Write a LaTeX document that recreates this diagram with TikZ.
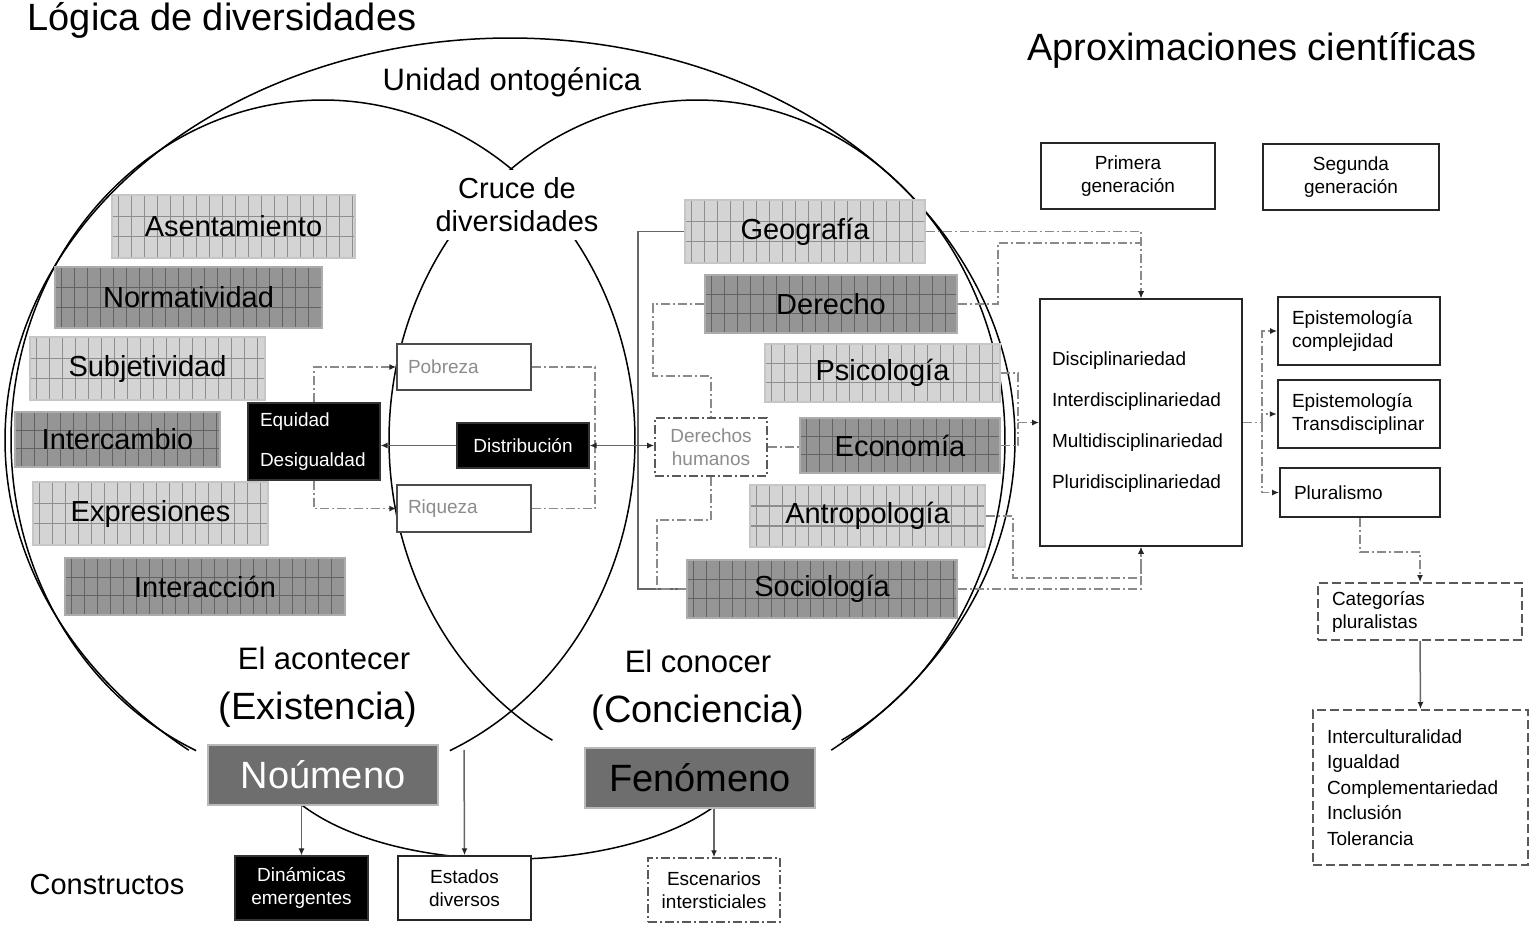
\documentclass[tikz,border=0pt]{standalone}
\usepackage{fontspec}
\setmainfont{Liberation Sans}
\usetikzlibrary{arrows.meta,calc,backgrounds}
\definecolor{lfill}{HTML}{D4D4D4}
\definecolor{lline}{HTML}{8E8E8E}
\definecolor{dfill}{HTML}{959595}
\definecolor{dline}{HTML}{636363}
\definecolor{nfill}{HTML}{6E6E6E}
\definecolor{conn}{HTML}{8A8A8A}
\definecolor{txtgray}{HTML}{8C8C8C}
\newcommand\gridpic[1]{%
  \foreach \k in {0,...,26}{%
    \draw[#1, line width=1pt] ([xshift=\k*13pt+6pt]path picture bounding box.north west) -- ([xshift=\k*13pt+6pt]path picture bounding box.south west);}%
  \draw[#1, line width=1.2pt] ($(path picture bounding box.north west)!0.34!(path picture bounding box.south west)$) -- ($(path picture bounding box.north east)!0.34!(path picture bounding box.south east)$);%
  \draw[#1, line width=1.2pt] ($(path picture bounding box.north west)!0.66!(path picture bounding box.south west)$) -- ($(path picture bounding box.north east)!0.66!(path picture bounding box.south east)$);%
}
\begin{document}
\begin{tikzpicture}[x=1pt,y=-1pt,
  >={Latex[length=7pt,width=6pt,color=black!85]},
  sz/.style 2 args={minimum width=#1pt, minimum height=#2pt, inner sep=0pt},
  gL/.style={fill=lfill, draw=gray!45, line width=1.5pt, path picture={\gridpic{lline}}, font=\fontsize{29}{34}\selectfont},
  gD/.style={fill=dfill, draw=gray!65, line width=1.5pt, path picture={\gridpic{dline}}, font=\fontsize{29}{34}\selectfont},
  small/.style={font=\fontsize{19}{23}\selectfont},
  lefttext/.style 2 args={text width=#1pt, inner xsep=#2pt, inner ysep=0pt, align=left},
  wbox/.style={draw=black!85, line width=1.8pt, fill=white},
  gbox/.style={draw=black!70, line width=1.3pt, fill=white, text=txtgray},
  bbox/.style={fill=black, draw=black!80, line width=1.2pt, text=white},
  ddbox/.style={draw=black!65, line width=1.8pt, fill=white, dash pattern=on 9pt off 3pt on 2pt off 3pt},
  dashbox/.style={draw=black!65, line width=2pt, fill=white, dash pattern=on 9pt off 4pt},
  nbox/.style={fill=nfill, draw=gray!55, line width=1.5pt, font=\fontsize{38}{44}\selectfont},
  dd/.style={draw=conn, line width=1.5pt, dash pattern=on 9pt off 3pt on 2pt off 3pt},
  sol/.style={draw=black!60, line width=1.5pt},
  curve/.style={draw=black, line width=1.5pt}
]
\useasboundingbox (0,0) rectangle (1531,927);

% titles and labels
\node[font=\fontsize{38}{44}\selectfont] (title) at (222,20) {Lógica de diversidades};
\node[font=\fontsize{38}{44}\selectfont] (aprox) at (1252,50) {Aproximaciones científicas};
\node[font=\fontsize{31}{36}\selectfont] (unidad) at (512,82) {Unidad ontogénica};
\node[font=\fontsize{29}{33}\selectfont, align=center, fill=white, inner xsep=2pt, inner ysep=8pt] (cruce) at (517,205) {Cruce de\\diversidades};
\node[font=\fontsize{31}{36}\selectfont] (acont) at (324,658) {El acontecer};
\node[font=\fontsize{38}{44}\selectfont] (exist) at (318,710) {(Existencia)};
\node[font=\fontsize{31}{36}\selectfont] (conoc) at (698,661) {El conocer};
\node[font=\fontsize{38}{44}\selectfont] (conc) at (698,713) {(Conciencia)};
\node[font=\fontsize{29}{34}\selectfont] (construct) at (107,885) {Constructos};

% left grid boxes
\node[gL, sz={243}{63}] (asent) at (233.5,226.5) {Asentamiento};
\node[gD, sz={267}{61}] (norm) at (188.5,297.5) {Normatividad};
\node[gL, sz={235}{63}] (subj) at (147.5,368.5) {Subjetividad};
\node[gD, sz={205}{55}] (interc) at (117.5,439.5) {Intercambio};
\node[gL, sz={235}{63}] (expr) at (150.5,513.5) {Expresiones};
\node[gD, sz={280}{57}] (inter) at (205,586.5) {Interacción};

% right grid boxes
\node[gL, sz={240}{63}] (geo) at (805,231.5) {Geografía};
\node[gD, sz={252}{58}] (der) at (831,304) {Derecho};
\node[gL, sz={235}{58}] (psi) at (882.5,373) {Psicología};
\node[gD, sz={200}{55}] (eco) at (900,445.5) {Economía};
\node[gL, sz={235}{62}] (antro) at (867.5,516) {Antropología};
\node[gD, sz={270}{58}] (socio) at (822,589) {Sociología};

% middle boxes
\node[bbox, small, lefttext={108}{12}, minimum height=77pt, font=\fontsize{19}{40}\selectfont] (equi) at (314,441.5) {Equidad\\Desigualdad};
\node[gbox, small, lefttext={112}{11}, minimum height=46pt] (pob) at (464,367) {Pobreza};
\node[gbox, small, lefttext={112}{11}, minimum height=47pt] (riq) at (464,508.5) {Riqueza};
\node[bbox, small, sz={132}{45}] (dist) at (523,445.5) {Distribución};
\node[ddbox, small, sz={112}{58}, align=center, text=txtgray] (dh) at (711,447) {Derechos\\humanos};

% right column
\node[wbox, lefttext={178}{12}, minimum height=247pt, font=\fontsize{19}{41}\selectfont] (disc) at (1141,422.5) {Disciplinariedad\\Interdisciplinariedad\\Multidisciplinariedad\\Pluridisciplinariedad};
\node[wbox, small, sz={174}{66}, align=center] (prim) at (1128,176) {Primera\\generación};
\node[wbox, small, sz={176}{66}, align=center] (seg) at (1351,177) {Segunda\\generación};
\node[wbox, small, lefttext={134}{14}, minimum height=68pt] (ecomp) at (1359,331) {Epistemología\\complejidad};
\node[wbox, small, lefttext={134}{14}, minimum height=68pt, line width=2.4pt] (etrans) at (1359,414) {Epistemología\\Transdisciplinar};
\node[wbox, small, lefttext={132}{14}, minimum height=49pt] (plur) at (1360,492.5) {Pluralismo};
\node[dashbox, small, lefttext={176}{14}, minimum height=57pt] (cat) at (1420,611.5) {Categorías\\pluralistas};
\node[dashbox, lefttext={187}{14}, minimum height=155pt, font=\fontsize{19}{25.5}\selectfont] (list) at (1420.5,787.5) {Interculturalidad\\Igualdad\\Complementariedad\\Inclusión\\Tolerancia};

% bottom
\node[nbox, sz={230}{60}, text=white] (noum) at (323,775) {Noúmeno};
\node[nbox, sz={230}{60}, text=black] (fen) at (700,778) {Fenómeno};
\node[bbox, small, sz={133}{64}, align=center] (din) at (301.5,888) {Dinámicas\\emergentes};
\node[wbox, small, sz={133}{64}, align=center, line width=1.5pt] (est) at (464.5,888) {Estados\\diversos};
\node[ddbox, small, sz={132}{64}, align=center, line width=1.5pt] (esc) at (714,890) {Escenarios\\intersticiales};

\coordinate (pdj) at (595,445.5);
\coordinate (bkx) at (638,0);
\coordinate (d1) at (653,376);
\coordinate (d2) at (657,520);
\coordinate (d3) at (998,243);
\coordinate (d4) at (1018,422.5);
\coordinate (d5) at (1013,578);
\coordinate (d6) at (1262,422.5);
\coordinate (d7) at (464,750);

\begin{scope}[on background layer]
\fill[white] (0,0) rectangle (1531,927);
% outer enclosing arc and the two circles
\draw[curve] plot[domain=129.5:410.5, samples=200, smooth] ({510+505*cos(\x)},{440+402*sin(\x)});
\draw[curve] plot[domain=114:426, samples=200, smooth] ({323+312*cos(\x)},{440+340*sin(\x)});
\draw[curve] plot[domain=118:422, samples=200, smooth] ({697+308*cos(\x)},{440+340*sin(\x)});
\draw[curve] (290,795) .. controls (380,880) and (630,880) .. (725,798);

% middle connectors
\draw[dd,->] (equi.north) |- (pob.west);
\draw[dd,->] (equi.south) |- (riq.west);
\draw[dd] (pob.east) -| (pdj);
\draw[dd] (riq.east) -| (pdj);
\draw[sol,->] (dist.west) -- (dist.west -| equi.east);
\draw[sol,<->] (dist.east) -- (dist.east -| dh.west);
\draw[sol] (geo.west) -- (geo.west -| bkx) -- (socio.west -| bkx) -- (socio.west);
\draw[dd] (der.west) -| (d1) -| (dh.north);
\draw[dd] (dh.south) |- (d2) |- (socio.west);
\draw[dd] (dh.east) -- (dh.east -| eco.west);

% to the disciplinary box
\draw[dd,->] (geo.east) -| (disc.north);
\draw[dd,->] (der.east) -| (d3) -| (disc.north);
\draw[dd] (psi.east) -| (d4);
\draw[dd] (eco.east) -| (d4);
\draw[dd,->] (d4) -- (disc.west);
\draw[dd,->] (antro.east) -| (d5) -| (disc.south);
\draw[dd,->] (socio.east) -| (disc.south);

% right side
\draw[dd] (disc.east) -- (d6);
\draw[dd,->] (d6) |- (ecomp.west);
\draw[dd,->] (d6) |- (etrans.west);
\draw[dd,->] (d6) |- (plur.west);
\draw[dd,->] (plur.south) -- ++(0,34) -| (cat.north);
\draw[sol,->] (cat.south) -- (list.north);

% constructs
\draw[sol,->] (din.north |- noum.south) -- (din.north);
\draw[sol,->] (d7) -- (est.north);
\draw[sol,->] (esc.north |- fen.south) -- (esc.north);
\end{scope}
\end{tikzpicture}
\end{document}
